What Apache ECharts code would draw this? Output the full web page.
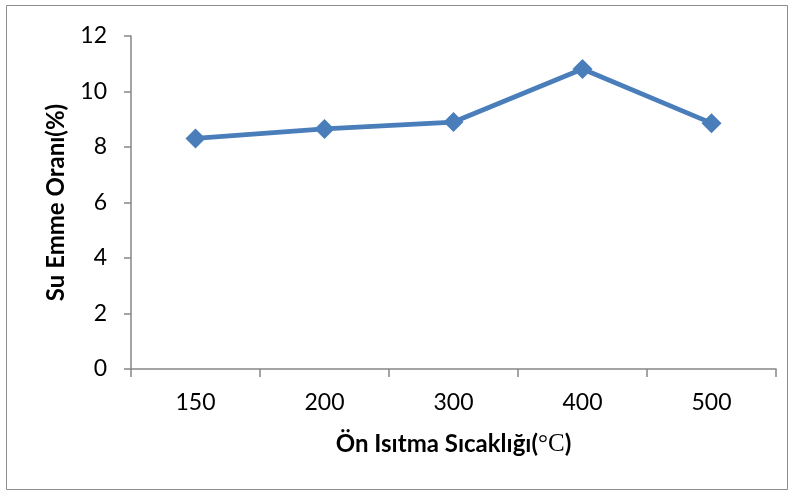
<!DOCTYPE html>
<html>
<head>
<meta charset="utf-8">
<script src="https://cdn.jsdelivr.net/npm/echarts@6/dist/echarts.min.js"></script>
<style>
  html, body { margin: 0; padding: 0; background: #ffffff; }
  #chart { width: 792px; height: 492px; }
</style>
</head>
<body>
<div id="chart"></div>
<script>
// Preheating temperature categories (°C)
const categories = ['150', '200', '300', '400', '500'];
// Water absorption ratio (%)
const absorption = [8.31, 8.65, 8.9, 10.81, 8.86];
// Y axis range
const yMin = 0;
const yMax = 12;
const yStep = 2;

const chart = echarts.init(document.getElementById('chart'), null, { renderer: 'canvas' });

const axisGray = '#868686';
const font = 'Lato, "Open Sans", sans-serif';

chart.setOption({
  animation: false,
  backgroundColor: '#ffffff',
  graphic: [{
    type: 'rect',
    shape: { x: 6.5, y: 5.5, width: 781, height: 484 },
    style: { fill: 'none', stroke: '#8c8c8c', lineWidth: 1 },
    silent: true
  }],
  grid: { left: 131, right: 16, top: 36, bottom: 123 },
  xAxis: {
    type: 'category',
    data: categories,
    boundaryGap: true,
    name: '{a|Ön Isıtma Sıcaklığı(}{b|°C}{a|)}',
    nameLocation: 'middle',
    nameGap: 63,
    nameTextStyle: {
      rich: {
        a: { fontFamily: font, fontWeight: 'bold', fontSize: 24, color: '#000' },
        b: { fontFamily: '"Liberation Serif", "DejaVu Serif", serif', fontSize: 25, color: '#000' }
      }
    },
    axisLine: { lineStyle: { color: axisGray, width: 1.5 } },
    axisTick: { show: true, alignWithLabel: false, length: 8, lineStyle: { color: axisGray, width: 1.5 } },
    axisLabel: { margin: 22, fontFamily: font, fontSize: 23, color: '#000' },
    splitLine: { show: false }
  },
  yAxis: {
    type: 'value',
    min: yMin,
    max: yMax,
    interval: yStep,
    name: 'Su Emme Oranı(%)',
    nameLocation: 'middle',
    nameGap: 63,
    nameTextStyle: { fontFamily: font, fontWeight: 'bold', fontSize: 24, color: '#000' },
    axisLine: { show: true, lineStyle: { color: axisGray, width: 1.5 } },
    axisTick: { show: true, length: 7, lineStyle: { color: axisGray, width: 1.5 } },
    axisLabel: { margin: 24, fontFamily: font, fontSize: 23, color: '#000' },
    splitLine: { show: false }
  },
  series: [{
    type: 'line',
    data: absorption,
    symbol: 'diamond',
    symbolSize: 20,
    lineStyle: { color: '#4A7EBB', width: 4.8 },
    itemStyle: { color: '#4A7EBB' }
  }]
});
</script>
</body>
</html>
